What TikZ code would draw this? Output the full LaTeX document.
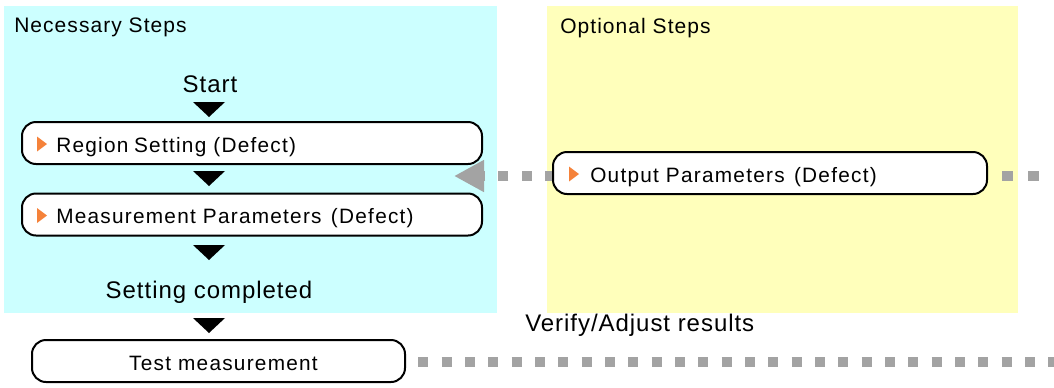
\documentclass[tikz,border=0pt]{standalone}
\usepackage{fontspec}
\setmainfont{Liberation Sans}
\newfontfamily\boxfont[LetterSpace=6]{Liberation Sans}
\newfontfamily\bigfont[LetterSpace=4]{Liberation Sans}
\newfontfamily\headfont[LetterSpace=5]{Liberation Sans}
\usetikzlibrary{arrows.meta,calc}
\definecolor{necbg}{HTML}{CCFFFF}
\definecolor{optbg}{HTML}{FFFFBB}
\definecolor{dashgrey}{HTML}{A3A3A3}
\definecolor{markorange}{HTML}{F5823A}
\begin{document}
\begin{tikzpicture}[x=0.75pt,y=-0.75pt,
  stepbox/.style={draw=black, line width=1.5pt, fill=white, rounded corners=10.5pt,
    minimum height=31.5pt, inner sep=0pt},
  boxlabel/.style={font=\boxfont\fontsize{15.6pt}{18pt}\selectfont, inner sep=0pt, anchor=base west},
  biglabel/.style={font=\bigfont\fontsize{18pt}{21pt}\selectfont, inner sep=0pt, anchor=base},
  headlabel/.style={font=\headfont\fontsize{15.75pt}{18pt}\selectfont, inner sep=0pt, anchor=base west},
  greyline/.style={draw=dashgrey, line width=7.5pt, line cap=butt},
  downtri/.pic={\fill[black] (-16,0) -- (16,0) -- (0,15) -- cycle;},
  marker/.pic={\fill[markorange] (0,-7.5) -- (10,0) -- (0,7.5) -- cycle;}
]
\fill[white] (0,0) rectangle (1054,387);
\useasboundingbox (0,0) rectangle (1054,387);

% panels
\fill[necbg] (4,6) rectangle (497,313);
\fill[optbg] (547,6) rectangle (1018,313);

\node[headlabel] (nechead) at (14,32) {Necessary Steps};
\node[headlabel] (opthead) at (560,33) {Optional Steps};

% coordinates for free ends
\coordinate (tip) at (454,176);
\coordinate (rightend) at (1054,176);
\coordinate (bottomend) at (1054,362);

% boxes
\node[stepbox, minimum width=345pt] (region) at (252,143) {};
\node[stepbox, minimum width=345pt] (meas) at (252,214.5) {};
\node[stepbox, minimum width=279.75pt] (test) at (218.5,361) {};

% grey dashed connectors (drawn before output box so box covers them)
\draw[greyline, dash pattern=on 8.25pt off 11.25pt, dash phase=8.25pt] ($(tip-|1000,0)+(-13,0)$) -- (rightend);
\draw[greyline, dash pattern=on 7.5pt off 10pt, dash phase=8.25pt] (test.east |- bottomend) -- (bottomend);

\node[stepbox, minimum width=325.5pt] (out) at (770,173) {};
\draw[greyline, dash pattern=on 7.5pt off 10pt, dash phase=2.25pt,
  -{Triangle[length=22.5pt,width=22.5pt]}] (out.west |- tip) -- (tip);

% labels in boxes
\pic at ($(region.west)+(16,1)$) {marker};
\node[boxlabel] (regionlbl) at ($(region.west)+(35,9)$) {Region\hspace{-1pt} Setting (Defect)};
\pic at ($(meas.west)+(16,1)$) {marker};
\node[boxlabel] (measlbl) at ($(meas.west)+(35,9)$) {Measurement Parameters\hspace{7pt}(Defect)};
\pic at ($(out.west)+(17,1)$) {marker};
\node[boxlabel] (outlbl) at ($(out.west)+(38,9)$) {Output Parameters\hspace{7pt}(Defect)};
\node[boxlabel, anchor=base] (testlbl) at ($(test.center)+(5,9)$) {Test measurement};

% flow texts
\node[biglabel] (start) at (210,92) {Start};
\node[biglabel] (done) at (209,298) {Setting completed};
\node[biglabel, anchor=base west] (verify) at (525,331) {Verify/Adjust results};

% flow triangles
\pic at (209,102) {downtri};
\pic at (209,171) {downtri};
\pic at (209,245) {downtri};
\pic at (209,318) {downtri};
\end{tikzpicture}
\end{document}
